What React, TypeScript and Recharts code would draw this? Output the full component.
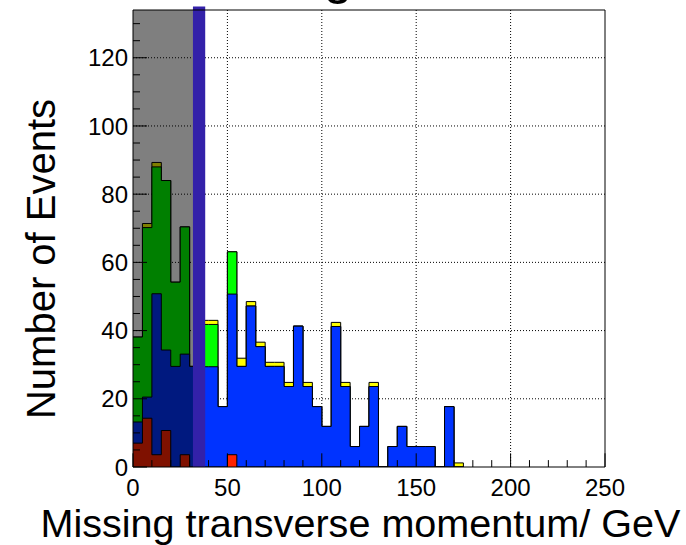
import React from 'react';
import {
  ComposedChart,
  Area,
  XAxis,
  YAxis,
  CartesianGrid,
  ReferenceArea,
} from 'recharts';

// Lower edges of the 5 GeV bins that hold entries
const binLow = [
  0, 5, 10, 15, 20, 25, 30, 35, 40, 45, 50, 55, 60, 65, 70, 75, 80, 85, 90, 95,
  100, 105, 110, 115, 120, 125, 130, 135, 140, 145, 150, 155, 160, 165, 170,
];

// Per-bin contents of each stacked component (bottom to top)
const redCounts = [
  7.0, 14.3, 3.6, 10.7, 0, 3.6, 0, 0, 0, 0, 3.6, 0, 0, 0, 0, 0, 0, 0, 0, 0,
  0, 0, 0, 0, 0, 0, 0, 0, 0, 0, 0, 0, 0, 0, 0,
];
const blueCounts = [
  6.2, 6.2, 47.2, 23.6, 29.5, 29.5, 29.5, 29.4, 29.4, 17.7, 47.1, 29.5, 47.2, 35.3, 29.5, 29.5, 23.6, 41.3, 23.6, 17.7,
  11.9, 41.2, 23.6, 6.0, 11.9, 23.6, 0, 6.0, 11.9, 6.0, 6.0, 6.0, 0, 17.7, 0,
];
const greenCounts = [
  24.9, 49.7, 37.2, 49.7, 24.7, 37.3, 0, 12.4, 12.4, 0, 12.4, 0, 0, 0, 0, 0, 0, 0, 0, 0,
  0, 0, 0, 0, 0, 0, 0, 0, 0, 0, 0, 0, 0, 0, 0,
];
const yellowCounts = [
  0, 1.2, 1.3, 0, 0, 0, 0, 1.2, 1.2, 0, 0, 2.4, 1.3, 1.3, 1.2, 1.2, 1.2, 0, 1.2, 0,
  0, 1.2, 1.2, 0, 0, 1.2, 0, 0, 0, 0, 0, 0, 0, 0, 1.2,
];

// Axis ticks (minor + major) and labelled values
const xTicks = [0, 10, 20, 30, 40, 50, 60, 70, 80, 90, 100, 110, 120, 130, 140, 150, 160, 170, 180, 190, 200, 210, 220, 230, 240, 250];
const xLabelTicks = [0, 50, 100, 150, 200, 250];
const yTicks = [0, 5, 10, 15, 20, 25, 30, 35, 40, 45, 50, 55, 60, 65, 70, 75, 80, 85, 90, 95, 100, 105, 110, 115, 120, 125, 130];
const yLabelTicks = [0, 20, 40, 60, 80, 100, 120];
const xGridValues = [50, 100, 150, 200];
const yGridValues = [20, 40, 60, 80, 100, 120];

const BIN_WIDTH = 5;
const X_MAX = 250;
const Y_MAX = 134;
const CUT_VALUE = 35;

const FONT = "'Liberation Sans', Arial, Helvetica, sans-serif";

// Cumulative sums so each layer is drawn from zero, total first
const rows = binLow.map((x, i) => {
  const red = redCounts[i];
  const blue = red + blueCounts[i];
  const green = blue + greenCounts[i];
  const yellow = green + yellowCounts[i];
  return { x, red, blue, green, yellow };
});
rows.push({ x: binLow[binLow.length - 1] + BIN_WIDTH, red: 0, blue: 0, green: 0, yellow: 0 });

const layers = [
  { key: 'yellow', fill: '#ffff00' },
  { key: 'green', fill: '#00ff00' },
  { key: 'blue', fill: '#0033ff' },
  { key: 'red', fill: '#ff2200' },
];

const XTick = (props: any) => {
  const { x, y, payload } = props;
  const v = payload.value;
  const major = xLabelTicks.includes(v);
  return (
    <g>
      <line x1={x} x2={x} y1={y} y2={y - (major ? 13.7 : 6.9)} stroke="#000" strokeWidth={1} />
      {major && (
        <text x={x} y={y + 29} textAnchor="middle" fontSize={24} fontFamily={FONT} fill="#000">
          {v}
        </text>
      )}
    </g>
  );
};

const YTick = (props: any) => {
  const { x, y, payload } = props;
  const v = payload.value;
  const major = yLabelTicks.includes(v);
  return (
    <g>
      <line x1={x} x2={x + (major ? 14 : 7)} y1={y} y2={y} stroke="#000" strokeWidth={1} />
      {major && (
        <text x={x - 5} y={y + 8.6} textAnchor="end" fontSize={24} fontFamily={FONT} fill="#000">
          {v}
        </text>
      )}
    </g>
  );
};

export default function App() {
  return (
    <div style={{ position: 'absolute', left: 0, top: 0, width: 686, height: 545, background: '#fff' }}>
      <ComposedChart
        width={686}
        height={545}
        data={rows}
        margin={{ top: 10, right: 81, bottom: 48, left: 73 }}
      >
        <CartesianGrid
          horizontalValues={yGridValues}
          verticalValues={xGridValues}
          stroke="#000"
          strokeDasharray="1 2"
        />
        <XAxis
          dataKey="x"
          type="number"
          domain={[0, X_MAX]}
          ticks={xTicks}
          interval={0}
          allowDataOverflow
          axisLine={false}
          tickLine={false}
          tickSize={0}
          tickMargin={0}
          height={30}
          tick={<XTick />}
        />
        <YAxis
          type="number"
          domain={[0, Y_MAX]}
          ticks={yTicks}
          interval={0}
          allowDataOverflow
          axisLine={false}
          tickLine={false}
          tickSize={0}
          tickMargin={0}
          width={60}
          tick={<YTick />}
        />
        {layers.map((l) => (
          <Area
            key={l.key}
            dataKey={l.key}
            type="stepAfter"
            fill={l.fill}
            fillOpacity={1}
            stroke="#000"
            strokeWidth={1}
            dot={false}
            activeDot={false}
            isAnimationActive={false}
          />
        ))}
        {/* shaded region below the cut */}
        <ReferenceArea x1={0} x2={CUT_VALUE} y1={0} y2={Y_MAX} fill="#000" fillOpacity={0.5} stroke="none" zIndex={1500} />
        {/* cut marker */}
        <ReferenceArea
          x1={CUT_VALUE - 3.25}
          x2={CUT_VALUE + 3.25}
          y1={0}
          y2={Y_MAX + 1}
          ifOverflow="visible"
          fill="#3321a9"
          fillOpacity={1}
          stroke="none"
          zIndex={1600}
        />
        {/* frame */}
        <ReferenceArea x1={0} x2={X_MAX} y1={0} y2={Y_MAX} fill="none" stroke="#000" strokeWidth={1} zIndex={1700} />
        <text x={338} y={-7} textAnchor="middle" fontSize={52} fontFamily={FONT} fill="#000">
          g
        </text>
        <text
          x={55}
          y={259}
          transform="rotate(-90 55 259)"
          textAnchor="middle"
          fontSize={40}
          fontFamily={FONT}
          fill="#000"
        >
          Number of Events
        </text>
        <text x={360.5} y={537} textAnchor="middle" fontSize={39.6} fontFamily={FONT} fill="#000">
          Missing transverse momentum/ GeV
        </text>
      </ComposedChart>
    </div>
  );
}
